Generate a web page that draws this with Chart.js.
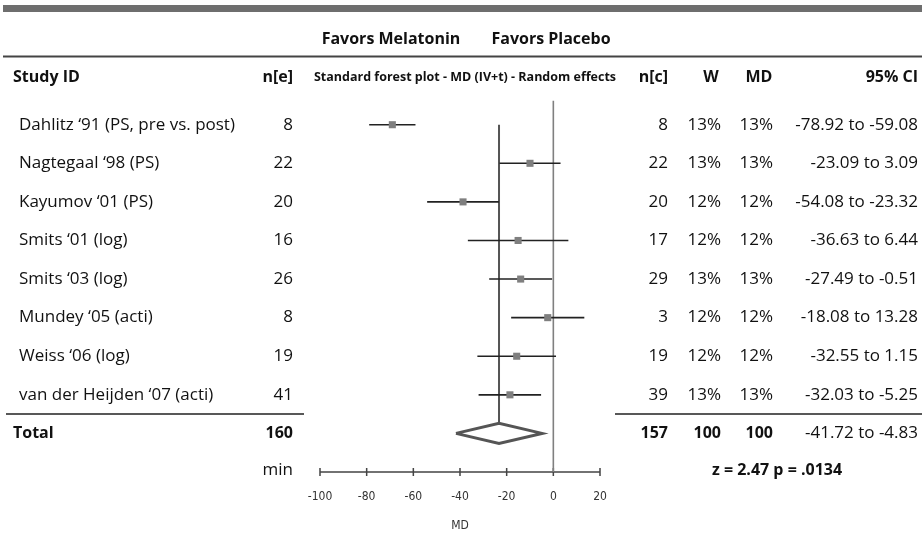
<!DOCTYPE html>
<html>
<head>
<meta charset="UTF-8">
<title>Melatonin forest plot</title>
<script src="https://cdn.jsdelivr.net/npm/chart.js@4.4.0/dist/chart.umd.min.js"></script>
<style>
  body { margin: 0; background: #fff; }
  canvas { display: block; }
</style>
</head>
<body>
<canvas id="forest" width="922" height="542"></canvas>
<script>
const studies = ['Dahlitz \u201891 (PS, pre vs. post)', 'Nagtegaal \u201898 (PS)', 'Kayumov \u201801 (PS)',
    'Smits \u201801 (log)', 'Smits \u201803 (log)', 'Mundey \u201805 (acti)', 'Weiss \u201806 (log)',
    'van der Heijden \u201807 (acti)'];
const nE = [8, 22, 20, 16, 26, 8, 19, 41];
const nC = [8, 22, 20, 17, 29, 3, 19, 39];
const weightW = ['13%', '13%', '12%', '12%', '13%', '12%', '12%', '13%'];
const weightMD = ['13%', '13%', '12%', '12%', '13%', '12%', '12%', '13%'];
const meanDiff = [-69.0, -10.0, -38.7, -15.1, -14.0, -2.4, -15.7, -18.6];
const ciLow = [-78.92, -23.09, -54.08, -36.63, -27.49, -18.08, -32.55, -32.03];
const ciHigh = [-59.08, 3.09, -23.32, 6.44, -0.51, 13.28, 1.15, -5.25];
const ciText = ['-78.92 to -59.08', '-23.09 to 3.09', '-54.08 to -23.32', '-36.63 to 6.44',
    '-27.49 to -0.51', '-18.08 to 13.28', '-32.55 to 1.15', '-32.03 to -5.25'];
const totalNE = 160, totalNC = 157, totalW = '100', totalMD = '100';
const pooledMD = -23.28, pooledLow = -41.72, pooledHigh = -4.83;
const pooledCI = '-41.72 to -4.83';
const zTest = 'z = 2.47 p = .0134';
const xTicks = [-100, -80, -60, -40, -20, 0, 20];

const FONT = '"Open Sans", Lato, sans-serif';
const SIZE = 17, BOLD_SIZE = 16;
const totalRow = studies.length;   // row index of the pooled result
const infoRow = totalRow + 0.95;  // "min" / z-test row

const ciSets = studies.map((s, i) => ({
    data: [{x: ciLow[i], y: i}, {x: ciHigh[i], y: i}],
    showLine: true, borderColor: '#222', borderWidth: 1.6, pointRadius: 0
}));

const datasets = [
    {   // study estimates
        data: meanDiff.map((m, i) => ({x: m, y: i})),
        pointStyle: 'rect', pointRadius: 5, backgroundColor: '#7f7f7f',
        borderColor: '#7f7f7f', borderWidth: 0, showLine: false
    },
    ...ciSets,
    {   // pooled diamond
        data: [{x: pooledLow, y: totalRow}, {x: pooledMD, y: totalRow - 0.26},
               {x: pooledHigh, y: totalRow}, {x: pooledMD, y: totalRow + 0.26},
               {x: pooledLow, y: totalRow}],
        showLine: true, borderColor: '#555', borderWidth: 3, pointRadius: 0,
        backgroundColor: '#fff', fill: false, borderJoinStyle: 'miter'
    },
    {   // pooled estimate line
        data: [{x: pooledMD, y: 0}, {x: pooledMD, y: totalRow - 0.26}],
        showLine: true, borderColor: '#555', borderWidth: 2, pointRadius: 0
    },
    {   // line of no effect
        data: [{x: 0, y: -0.62}, {x: 0, y: infoRow + 0.05}],
        showLine: true, borderColor: '#808080', borderWidth: 1.6, pointRadius: 0
    }
];

function txt(ctx, s, x, y, align, bold) {
    ctx.font = bold ? 'bold ' + BOLD_SIZE + 'px ' + FONT : SIZE + 'px ' + FONT;
    ctx.textAlign = align;
    ctx.textBaseline = 'middle';
    ctx.fillText(s, x, y);
}

const tablePlugin = {
    id: 'forestTable',
    beforeDraw(chart) {
        const ctx = chart.ctx;
        const y = chart.scales.y, x = chart.scales.x;
        ctx.save();
        ctx.fillStyle = '#fff';
        ctx.fillRect(0, 0, chart.width, chart.height);
        // top band and header rule
        ctx.fillStyle = '#6e6e6e';
        ctx.fillRect(3, 5, 919, 7);
        ctx.strokeStyle = '#444';
        ctx.lineWidth = 2;
        ctx.beginPath();
        ctx.moveTo(3, y.getPixelForValue(-1.77));
        ctx.lineTo(922, y.getPixelForValue(-1.77));
        ctx.stroke();
        // rule above totals
        const sep = y.getPixelForValue(totalRow - 0.5);
        ctx.strokeStyle = '#222';
        ctx.lineWidth = 1.5;
        ctx.beginPath();
        ctx.moveTo(6, sep); ctx.lineTo(304, sep);
        ctx.moveTo(615, sep); ctx.lineTo(922, sep);
        ctx.stroke();

        ctx.fillStyle = '#111';
        const fy = y.getPixelForValue(-2.22);
        txt(ctx, 'Favors Melatonin', 391, fy, 'center', true);
        txt(ctx, 'Favors Placebo', 551, fy, 'center', true);

        const hy = y.getPixelForValue(-1.22);
        txt(ctx, 'Study ID', 13, hy, 'left', true);
        txt(ctx, 'n[e]', 293, hy, 'right', true);
        ctx.font = 'bold 12.5px ' + FONT;
        ctx.textAlign = 'center';
        ctx.fillText('Standard forest plot - MD (IV+t) - Random effects', 465, hy, 306);
        txt(ctx, 'n[c]', 668, hy, 'right', true);
        txt(ctx, 'W', 711, hy, 'center', true);
        txt(ctx, 'MD', 759, hy, 'center', true);
        txt(ctx, '95% CI', 918, hy, 'right', true);

        studies.forEach((s, i) => {
            const ry = y.getPixelForValue(i);
            txt(ctx, s, 19, ry, 'left', false);
            txt(ctx, String(nE[i]), 293, ry, 'right', false);
            txt(ctx, String(nC[i]), 668, ry, 'right', false);
            txt(ctx, weightW[i], 721, ry, 'right', false);
            txt(ctx, weightMD[i], 773, ry, 'right', false);
            txt(ctx, ciText[i], 918, ry, 'right', false);
        });

        const ty = y.getPixelForValue(totalRow);
        txt(ctx, 'Total', 13, ty, 'left', true);
        txt(ctx, String(totalNE), 293, ty, 'right', true);
        txt(ctx, String(totalNC), 668, ty, 'right', true);
        txt(ctx, totalW, 721, ty, 'right', true);
        txt(ctx, totalMD, 773, ty, 'right', true);
        txt(ctx, pooledCI, 918, ty, 'right', false);

        const iy = y.getPixelForValue(infoRow);
        txt(ctx, 'min', 293, iy, 'right', false);
        txt(ctx, zTest, 777, iy, 'center', true);

        // x axis with ticks crossing the line
        const ay = chart.chartArea.bottom;
        ctx.strokeStyle = '#444';
        ctx.lineWidth = 1.5;
        ctx.beginPath();
        ctx.moveTo(x.getPixelForValue(xTicks[0]), ay);
        ctx.lineTo(x.getPixelForValue(xTicks[xTicks.length - 1]), ay);
        xTicks.forEach(t => {
            const px = x.getPixelForValue(t);
            ctx.moveTo(px, ay - 4); ctx.lineTo(px, ay + 4);
        });
        ctx.stroke();
        ctx.restore();
    }
};

new Chart(document.getElementById('forest'), {
    type: 'scatter',
    data: { datasets },
    options: {
        responsive: false,
        animation: false,
        layout: { padding: { left: 320, right: 322, top: 0, bottom: 0 } },
        plugins: { legend: { display: false }, tooltip: { enabled: false } },
        scales: {
            x: {
                type: 'linear', min: -100, max: 20,
                afterBuildTicks: s => { s.ticks = xTicks.map(v => ({value: v})); },
                afterFit: s => { s.height = 70; },
                grid: { display: false, drawTicks: false },
                border: { display: false },
                ticks: {
                    padding: 18, color: '#333',
                    font: { family: '"Liberation Sans Narrow", "DejaVu Sans Condensed", sans-serif', size: 12 }
                },
                title: {
                    display: true, text: 'MD', color: '#333',
                    padding: { top: 12, bottom: 9 },
                    font: { family: '"Liberation Sans Narrow", "DejaVu Sans Condensed", sans-serif', size: 12 }
                }
            },
            y: {
                type: 'linear', reverse: true, min: -121 / 39, max: totalRow + 1,
                display: false
            }
        }
    },
    plugins: [tablePlugin]
});
</script>
</body>
</html>
